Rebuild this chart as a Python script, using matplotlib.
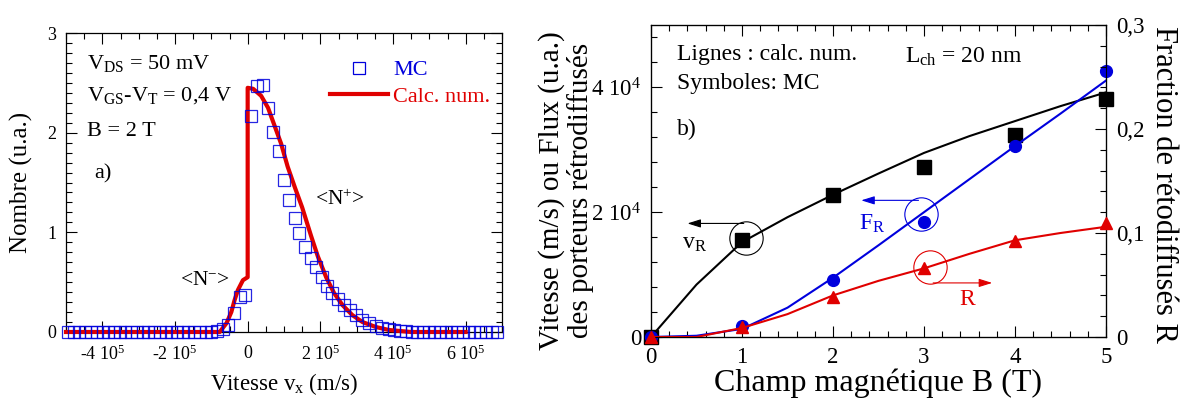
import numpy as np
import matplotlib
matplotlib.use("Agg")
import matplotlib.pyplot as plt
from matplotlib.lines import Line2D
from matplotlib.ticker import MultipleLocator

plt.rcParams["font.family"] = ["Liberation Serif", "DejaVu Serif"]
plt.rcParams["mathtext.fontset"] = "custom"
plt.rcParams["mathtext.rm"] = "Liberation Serif"
plt.rcParams["mathtext.it"] = "Liberation Serif:italic"
plt.rcParams["mathtext.default"] = "rm"

# ---- panel a) : distribution of v_x (velocities in 1e5 m/s) ----
MC_VX = [-4.94, -4.78, -4.63, -4.47, -4.31, -4.15, -3.99, -3.84, -3.68, -3.52,
         -3.37, -3.21, -3.05, -2.89, -2.74, -2.58, -2.42, -2.26, -2.11, -1.95,
         -1.79, -1.63, -1.48, -1.32, -1.16, -1.00, -0.85, -0.69, -0.53, -0.37,
         -0.22, -0.06, 0.10, 0.25, 0.41, 0.55, 0.69, 0.86, 0.99, 1.13,
         1.29, 1.42, 1.59, 1.73, 1.88, 2.05, 2.19, 2.33, 2.49, 2.66,
         2.82, 2.98, 3.15, 3.34, 3.53, 3.70, 3.88, 4.04, 4.20, 4.35,
         4.51, 4.67, 4.83, 4.98, 5.14, 5.30, 5.46, 5.61, 5.77, 5.93,
         6.09, 6.24, 6.40, 6.56, 6.72, 6.87]
MC_N = [0, 0, 0, 0, 0, 0, 0, 0, 0, 0,
        0, 0, 0, 0, 0, 0, 0, 0, 0, 0,
        0, 0, 0, 0, 0, 0, 0.01, 0.03, 0.07, 0.19,
        0.35, 0.37, 2.17, 2.47, 2.48, 2.25, 2.01, 1.82, 1.53, 1.32,
        1.14, 0.99, 0.85, 0.74, 0.65, 0.55, 0.46, 0.39, 0.33, 0.27,
        0.22, 0.17, 0.12, 0.09, 0.06, 0.04, 0.03, 0.02, 0.01, 0.01,
        0, 0, 0, 0, 0, 0, 0, 0, 0, 0,
        0, 0, 0, 0, 0, 0]
CALC_VX = [-5.0, -0.77, -0.58, -0.45, -0.36, -0.27, -0.13, 0.0, 0.0, 0.15,
           0.37, 0.56, 0.74, 0.92, 1.10, 1.30, 1.50, 1.74, 1.93, 2.16,
           2.38, 2.61, 2.88, 3.16, 3.53, 3.89, 4.50, 6.0]
CALC_N = [0, 0, 0.09, 0.20, 0.32, 0.42, 0.52, 0.55, 2.45, 2.44,
          2.37, 2.25, 2.07, 1.89, 1.66, 1.45, 1.25, 0.97, 0.76, 0.55,
          0.39, 0.27, 0.17, 0.10, 0.05, 0.02, 0.0, 0.0]
VX_TICKS = [-4, -2, 0, 2, 4, 6]
VX_LABELS = ["-4 10$^5$", "-2 10$^5$", "0", "2 10$^5$", "4 10$^5$", "6 10$^5$"]

# ---- panel b) : backscattering vs magnetic field ----
B_MC = [0, 1, 2, 3, 4, 5]
VR_MC = [0, 1.55e4, 2.28e4, 2.72e4, 3.24e4, 3.82e4]
FR_MC = [0, 0.18e4, 0.92e4, 1.84e4, 3.06e4, 4.27e4]
R_MC = [0, 0.010, 0.038, 0.066, 0.092, 0.110]
B_CALC = [0, 0.5, 1, 1.5, 2, 2.5, 3, 3.5, 4, 4.5, 5]
VR_CALC = [0, 0.84e4, 1.52e4, 1.92e4, 2.28e4, 2.62e4, 2.95e4, 3.22e4, 3.46e4, 3.70e4, 3.92e4]
FR_CALC = [0, 0.02e4, 0.13e4, 0.47e4, 0.95e4, 1.47e4, 2.00e4, 2.53e4, 3.06e4, 3.58e4, 4.11e4]
R_CALC = [0, 0.0, 0.0087, 0.022, 0.040, 0.054, 0.066, 0.080, 0.093, 0.100, 0.106]

RED = "#e00000"
BLUE = "#0000dd"
W, H = 11.96, 4.04
fig = plt.figure(figsize=(W, H), dpi=100)

# ================= panel a =================
ax = fig.add_axes([66 / 1196, 1 - 332 / 404, 436 / 1196, 299 / 404])
vx = np.array(MC_VX) * 1e5
ax.plot(np.array(CALC_VX) * 1e5, CALC_N, color=RED, lw=3, zorder=3,
        clip_on=False, label="Calc. num.")
ax.plot(vx, MC_N, ls="none", marker="s", ms=8.5, mfc="none", mec=BLUE,
        mew=0.9, alpha=0.85, zorder=4, clip_on=False, label="MC")
ax.set_xlim(-5e5, 7e5)
ax.set_ylim(0, 3)
ax.set_xticks(np.array(VX_TICKS) * 1e5, VX_LABELS)
ax.xaxis.set_minor_locator(MultipleLocator(5e4))
ax.yaxis.set_major_locator(MultipleLocator(1))
ax.yaxis.set_minor_locator(MultipleLocator(0.1))
ax.tick_params(which="both", direction="in", top=True, right=True, width=0.8)
ax.tick_params(which="major", length=8, labelsize=13, pad=7)
ax.tick_params(which="minor", length=4.5)
ax.tick_params(axis="x", pad=9)
for s in ax.spines.values():
    s.set_linewidth(0.9)
ax.set_xlabel("Vitesse v$_x$ (m/s)", fontsize=16.5)
ax.xaxis.set_label_coords(0.5, -0.13)
ax.set_ylabel("Nombre (u.a.)", fontsize=18)
ax.yaxis.set_label_coords(-0.076, 0.5)

ax.text(-4.42e5, 2.64, "V$_{DS}$ = 50 mV", fontsize=16, va="baseline")
ax.text(-4.42e5, 2.32, "V$_{GS}$-V$_T$ = 0,4 V", fontsize=16, va="baseline")
ax.text(-4.42e5, 1.97, "B = 2 T", fontsize=16, va="baseline")
ax.text(-4.23e5, 1.54, "a)", fontsize=16, va="baseline")
ax.text(1.85e5, 1.27, "<N$^{+}$>", fontsize=15.5, va="baseline")
ax.text(-1.86e5, 0.47, "<N$^{-}$>", fontsize=15.5, va="baseline")

handles = [Line2D([], [], ls="none", marker="s", ms=8.5, mfc="none",
                  mec=BLUE, mew=0.9),
           Line2D([], [], color=RED, lw=3)]
leg = ax.legend(handles, ["MC", "Calc. num."], loc="upper left",
                bbox_to_anchor=(0.605, 0.91), frameon=False, fontsize=16,
                handlelength=2.6, handletextpad=0.25, labelspacing=0.25,
                borderpad=0, borderaxespad=0)
for t, c in zip(leg.get_texts(), [BLUE, RED]):
    t.set_color(c)

# ================= panel b =================
bx = fig.add_axes([651 / 1196, 1 - 337 / 404, 455 / 1196, 312 / 404])
bx.plot(B_CALC, VR_CALC, color="k", lw=1.5, zorder=2)
bx.plot(B_MC, VR_MC, ls="none", marker="s", ms=9.5, color="k", zorder=3,
        clip_on=False)
bx.plot(B_CALC, FR_CALC, color=BLUE, lw=1.5, zorder=4)
bx.plot(B_MC, FR_MC, ls="none", marker="o", ms=8.5, color=BLUE, zorder=5,
        clip_on=False)
bx.set_xlim(0, 5)
bx.set_ylim(0, 5e4)
bx.set_xticks([0, 1, 2, 3, 4, 5])
bx.set_yticks([0, 2e4, 4e4], ["0", "2 10$^4$", "4 10$^4$"])
bx.xaxis.set_minor_locator(MultipleLocator(0.2))
bx.yaxis.set_minor_locator(MultipleLocator(4e3))
bx.tick_params(which="both", direction="in", top=True, right=False, width=0.8)
bx.tick_params(which="major", length=8, labelsize=16.5, pad=7)
bx.tick_params(which="minor", length=4.5)
for s in bx.spines.values():
    s.set_linewidth(0.9)
bx.set_xlabel("Champ magnétique B (T)", fontsize=23)
bx.xaxis.set_label_coords(0.5, -0.1)
bx.set_ylabel("Vitesse (m/s) ou Flux (u.a.)\ndes porteurs rétrodiffusés",
              fontsize=21, linespacing=1.1)
bx.yaxis.set_label_coords(-0.125, 0.47)

cx = bx.twinx()
cx.plot(B_CALC, R_CALC, color=RED, lw=1.5, zorder=2)
cx.plot(B_MC, R_MC, ls="none", marker="^", ms=9, color=RED, zorder=3,
        clip_on=False)
cx.set_ylim(0, 0.3)
cx.set_yticks([0, 0.1, 0.2, 0.3], ["0", "0,1", "0,2", "0,3"])
cx.yaxis.set_minor_locator(MultipleLocator(0.02))
cx.tick_params(which="both", direction="in", width=0.8)
cx.tick_params(which="major", length=8, labelsize=16.5, pad=7)
cx.tick_params(which="minor", length=4.5)
cx.set_ylabel("Fraction de rétodiffusés R", fontsize=22, rotation=270,
              va="bottom")
cx.yaxis.set_label_coords(1.095, 0.49)

bx.text(0.29, 4.44e4, "Lignes : calc. num.", fontsize=17)
bx.text(0.29, 3.98e4, "Symboles: MC", fontsize=17)
bx.text(0.29, 3.23e4, "b)", fontsize=17)
bx.text(2.79, 4.40e4, "L$_{ch}$ = 20 nm", fontsize=17)

# circled points with arrows pointing to their axis
bx.plot([1.04], [1.58e4], marker="o", ms=24, mfc="none", mec="k", mew=0.8)
bx.annotate("", xy=(0.37, 1.82e4), xytext=(1.05, 1.82e4),
            arrowprops=dict(arrowstyle="-|>,head_length=0.8,head_width=0.25",
                            color="k", lw=0.8))
bx.text(0.48, 1.5e4, "v$_R$", fontsize=17, ha="center", va="center")

bx.plot([2.97], [1.97e4], marker="o", ms=24, mfc="none", mec=BLUE, mew=0.8)
bx.annotate("", xy=(2.28, 2.19e4), xytext=(2.97, 2.19e4),
            arrowprops=dict(arrowstyle="-|>,head_length=0.8,head_width=0.25",
                            color=BLUE, lw=0.8))
bx.text(2.43, 1.82e4, "F$_R$", fontsize=17, ha="center", va="center",
        color=BLUE)

cx.plot([3.07], [0.067], marker="o", ms=24, mfc="none", mec=RED, mew=0.8)
cx.annotate("", xy=(3.78, 0.052), xytext=(3.07, 0.052),
            arrowprops=dict(arrowstyle="-|>,head_length=0.8,head_width=0.25",
                            color=RED, lw=0.8))
cx.text(3.47, 0.036, "R", fontsize=17, ha="center", va="center", color=RED)

fig.savefig("out.png", dpi=100)
